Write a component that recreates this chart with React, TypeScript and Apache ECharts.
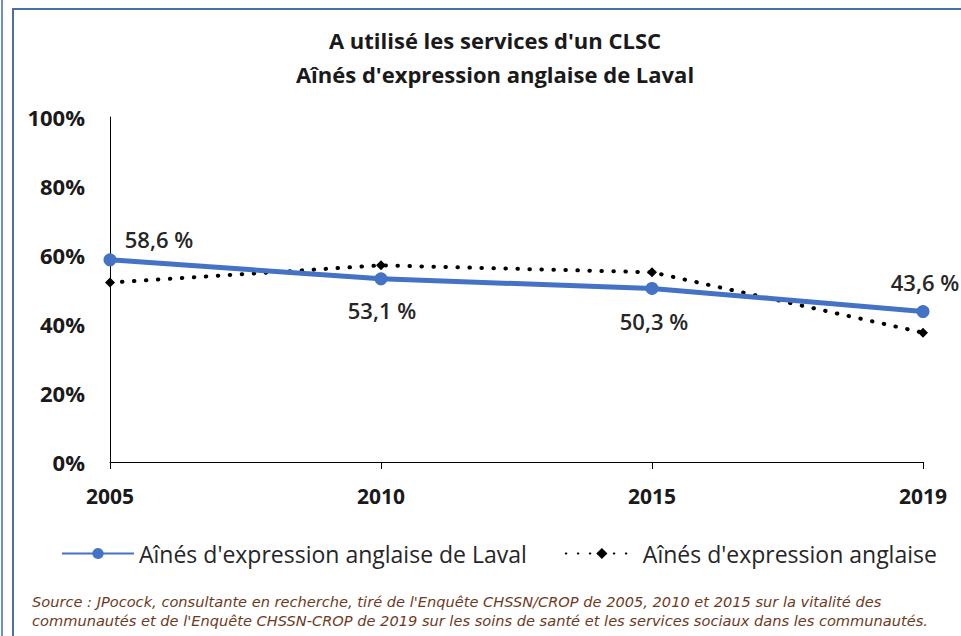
import React, { useEffect, useRef } from "react";
import * as echarts from "echarts";

const years = ["2005", "2010", "2015", "2019"];
const lavalValues = [58.6, 53.1, 50.3, 43.6];
const anglaisValues = [52, 57, 55, 37.5];
const lavalLabels = ["58,6 %", "53,1 %", "50,3 %", "43,6 %"];
const labelOffsets = [
  [49, -21],
  [1, 31],
  [2, 33],
  [2, -30],
];
const titleLines = ["A utilisé les services d'un CLSC", "Aînés d'expression anglaise de Laval"];
const seriesNames = ["Aînés d'expression anglaise de Laval", "Aînés d'expression anglaise"];
const sourceLines = [
  "Source : JPocock, consultante en recherche, tiré de l'Enquête CHSSN/CROP de 2005, 2010 et 2015 sur la vitalité des",
  "communautés et de l'Enquête CHSSN-CROP de 2019 sur les soins de santé et les services sociaux dans les communautés.",
];

const FONT = "'Open Sans', 'DejaVu Sans', sans-serif";

export default function App() {
  const ref = useRef<HTMLDivElement>(null);
  useEffect(() => {
    if (!ref.current) return;
    const chart = echarts.init(ref.current, null, { renderer: "svg" });
    chart.setOption({
      animation: false,
      backgroundColor: "#ffffff",
      textStyle: { fontFamily: FONT },
      title: {
        text: titleLines.join("\n"),
        left: 490,
        top: 18,
        textAlign: "center",
        textStyle: {
          fontFamily: FONT,
          fontSize: 22,
          fontWeight: "bold",
          color: "#1a1a1a",
          lineHeight: 34,
        },
      },
      legend: {
        top: 537,
        left: 56,
        itemGap: 38,
        itemWidth: 72,
        itemHeight: 14,
        textStyle: { fontFamily: FONT, fontSize: 23, color: "#262626" },
        data: [{ name: seriesNames[0] }, { name: seriesNames[1] }],
      },
      grid: { left: 110, right: 38, top: 117, bottom: 174, containLabel: false },
      xAxis: {
        type: "category",
        data: years,
        boundaryGap: false,
        axisLine: { lineStyle: { color: "#000", width: 1 } },
        axisTick: { show: true, length: 7, lineStyle: { color: "#000" } },
        axisLabel: {
          fontFamily: FONT,
          fontSize: 21,
          fontWeight: "bold",
          color: "#1a1a1a",
          margin: 23,
        },
      },
      yAxis: {
        type: "value",
        min: 0,
        max: 100,
        interval: 20,
        axisLine: { show: true, lineStyle: { color: "#000", width: 1 } },
        axisTick: { show: false },
        splitLine: { show: false },
        axisLabel: {
          fontFamily: FONT,
          fontSize: 22,
          fontWeight: "bold",
          color: "#1a1a1a",
          margin: 25,
          formatter: "{value}%",
        },
      },
      series: [
        {
          name: seriesNames[0],
          type: "line",
          data: lavalValues.map((v, i) => ({
            value: v,
            label: {
              show: true,
              position: "inside",
              offset: labelOffsets[i],
              formatter: lavalLabels[i],
              fontFamily: FONT,
              fontSize: 22,
              fontWeight: 600,
              color: "#262626",
            },
          })),
          symbol: "circle",
          symbolSize: 13,
          lineStyle: { color: "#4472C4", width: 5 },
          itemStyle: { color: "#4472C4" },
          z: 3,
        },
        {
          name: seriesNames[1],
          type: "line",
          data: anglaisValues,
          symbol: "diamond",
          symbolSize: 10,
          lineStyle: { color: "#000", width: 4, type: [0.5, 11.5], cap: "round" },
          itemStyle: { color: "#000" },
          z: 2,
        },
      ],
      graphic: [
        {
          type: "line",
          shape: { x1: 2, y1: 0, x2: 2, y2: 636 },
          style: { stroke: "#6f8dbf", lineWidth: 2 },
        },
        {
          type: "rect",
          shape: { x: 13, y: 9, width: 960, height: 640 },
          style: { fill: "none", stroke: "#4a6ea8", lineWidth: 2 },
        },
        {
          type: "text",
          left: 32,
          top: 592,
          style: {
            text: sourceLines.join("\n"),
            fontFamily: "'DejaVu Sans', sans-serif",
            fontSize: 14.6,
            fontStyle: "italic",
            fill: "#6e3a1c",
            lineHeight: 19,
          },
        },
      ],
    });
    return () => chart.dispose();
  }, []);
  return (
    <div
      ref={ref}
      style={{ position: "absolute", left: 0, top: 0, width: 961, height: 636 }}
    />
  );
}
